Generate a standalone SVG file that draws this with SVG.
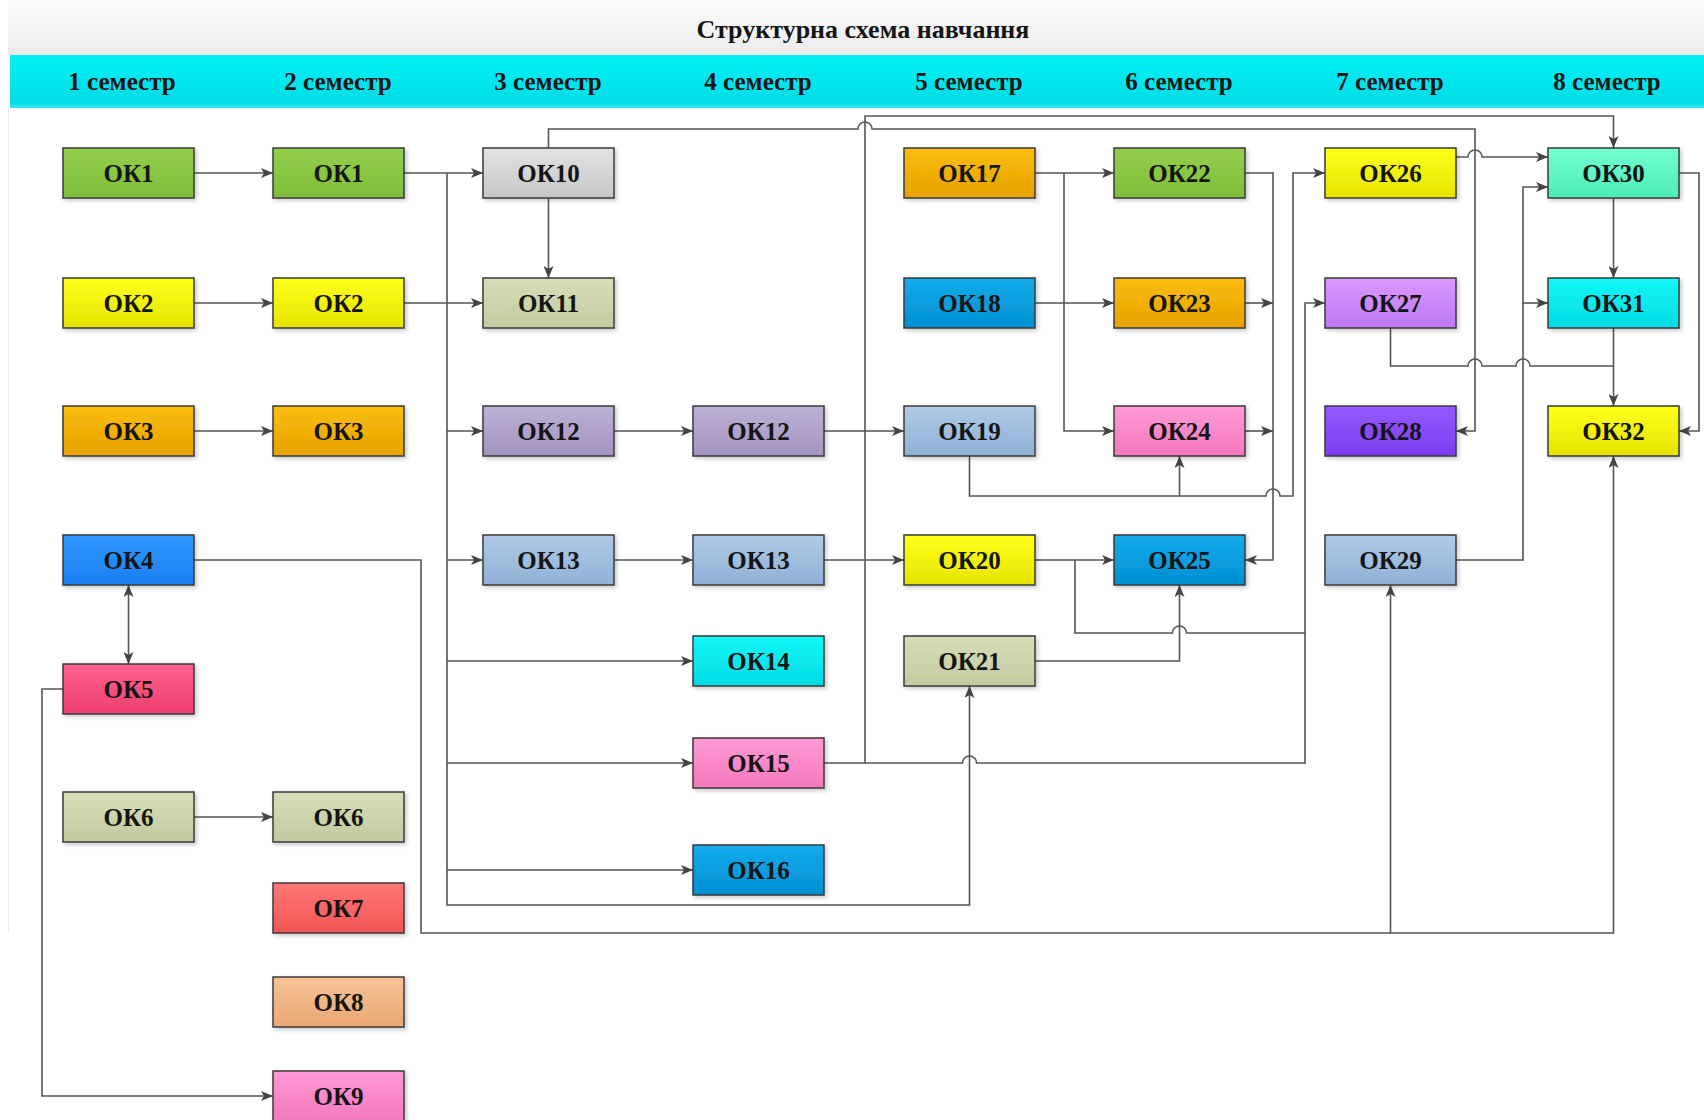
<svg xmlns="http://www.w3.org/2000/svg" width="1704" height="1120" viewBox="0 0 1704 1120">
<style>
.n rect{stroke:#3a3a3a;stroke-width:1.5;filter:url(#sh)}
.n text{font-family:"Liberation Serif","Times New Roman",serif;font-weight:bold;font-size:25px;fill:#151515;text-anchor:middle}
.hd{font-family:"Liberation Serif","Times New Roman",serif;font-weight:bold;fill:#151515;text-anchor:middle}
#connectors path{fill:none;stroke:#555;stroke-width:1.6}
.e{marker-end:url(#ar)}
</style>
<defs>
<marker id="ar" markerWidth="12" markerHeight="10" refX="12" refY="5" orient="auto-start-reverse" markerUnits="userSpaceOnUse"><path d="M0,0 L12,5 L0,10 L3,5 z" fill="#444"/></marker>
<filter id="sh" x="-10%" y="-20%" width="125%" height="150%"><feDropShadow dx="2" dy="2" stdDeviation="2" flood-color="#000" flood-opacity="0.22"/></filter>
<linearGradient id="gTitle" x1="0" y1="0" x2="0" y2="1"><stop offset="0" stop-color="#fcfcfc"/><stop offset="1" stop-color="#ebebeb"/></linearGradient>
<linearGradient id="gBand" x1="0" y1="0" x2="0" y2="1"><stop offset="0" stop-color="#00f2f5"/><stop offset="0.9" stop-color="#00dde6"/><stop offset="1" stop-color="#40e8ee"/></linearGradient>
<linearGradient id="gGreen" x1="0" y1="0" x2="0" y2="1"><stop offset="0" stop-color="#93cf4b"/><stop offset="1" stop-color="#7fbd3a"/></linearGradient>
<linearGradient id="gYellow" x1="0" y1="0" x2="0" y2="1"><stop offset="0" stop-color="#ffff1a"/><stop offset="1" stop-color="#e6e400"/></linearGradient>
<linearGradient id="gOrange" x1="0" y1="0" x2="0" y2="1"><stop offset="0" stop-color="#fbbd0c"/><stop offset="1" stop-color="#e6a200"/></linearGradient>
<linearGradient id="gBlue" x1="0" y1="0" x2="0" y2="1"><stop offset="0" stop-color="#2e98ff"/><stop offset="1" stop-color="#1a7ff0"/></linearGradient>
<linearGradient id="gRed" x1="0" y1="0" x2="0" y2="1"><stop offset="0" stop-color="#ff628f"/><stop offset="1" stop-color="#ee3f6f"/></linearGradient>
<linearGradient id="gKhaki" x1="0" y1="0" x2="0" y2="1"><stop offset="0" stop-color="#d7ddb8"/><stop offset="1" stop-color="#c3ca9f"/></linearGradient>
<linearGradient id="gSalmon" x1="0" y1="0" x2="0" y2="1"><stop offset="0" stop-color="#ff7676"/><stop offset="1" stop-color="#f25656"/></linearGradient>
<linearGradient id="gPeach" x1="0" y1="0" x2="0" y2="1"><stop offset="0" stop-color="#f6c396"/><stop offset="1" stop-color="#e9a873"/></linearGradient>
<linearGradient id="gPink" x1="0" y1="0" x2="0" y2="1"><stop offset="0" stop-color="#ff9ad4"/><stop offset="1" stop-color="#f478bd"/></linearGradient>
<linearGradient id="gGray" x1="0" y1="0" x2="0" y2="1"><stop offset="0" stop-color="#e2e2e2"/><stop offset="1" stop-color="#c6c6c6"/></linearGradient>
<linearGradient id="gLav" x1="0" y1="0" x2="0" y2="1"><stop offset="0" stop-color="#bdb0d5"/><stop offset="1" stop-color="#a394c0"/></linearGradient>
<linearGradient id="gSteel" x1="0" y1="0" x2="0" y2="1"><stop offset="0" stop-color="#b0cae7"/><stop offset="1" stop-color="#8fb0d6"/></linearGradient>
<linearGradient id="gCyan" x1="0" y1="0" x2="0" y2="1"><stop offset="0" stop-color="#14f8f8"/><stop offset="1" stop-color="#00dbe3"/></linearGradient>
<linearGradient id="gSky" x1="0" y1="0" x2="0" y2="1"><stop offset="0" stop-color="#14abeb"/><stop offset="1" stop-color="#0090d0"/></linearGradient>
<linearGradient id="gViolet" x1="0" y1="0" x2="0" y2="1"><stop offset="0" stop-color="#da98ff"/><stop offset="1" stop-color="#bd78f2"/></linearGradient>
<linearGradient id="gPurple" x1="0" y1="0" x2="0" y2="1"><stop offset="0" stop-color="#9659ff"/><stop offset="1" stop-color="#7b3ef0"/></linearGradient>
<linearGradient id="gAqua" x1="0" y1="0" x2="0" y2="1"><stop offset="0" stop-color="#72ffd2"/><stop offset="1" stop-color="#4cecb6"/></linearGradient>
</defs>
<rect x="0" y="0" width="1704" height="1120" fill="#ffffff"/>
<g id="header">
<rect x="8" y="0" width="1696" height="55" fill="url(#gTitle)"/>
<line x1="8.5" y1="108" x2="8.5" y2="932" stroke="#ececec" stroke-width="1"/>
<rect x="10" y="55" width="1694" height="53" fill="url(#gBand)"/>
<text class="hd" x="863" y="38" font-size="26">Структурна схема навчання</text>
<text class="hd" x="122" y="90" font-size="25">1 семестр</text>
<text class="hd" x="338" y="90" font-size="25">2 семестр</text>
<text class="hd" x="548" y="90" font-size="25">3 семестр</text>
<text class="hd" x="758" y="90" font-size="25">4 семестр</text>
<text class="hd" x="969" y="90" font-size="25">5 семестр</text>
<text class="hd" x="1179" y="90" font-size="25">6 семестр</text>
<text class="hd" x="1390" y="90" font-size="25">7 семестр</text>
<text class="hd" x="1607" y="90" font-size="25">8 семестр</text>
</g>
<g id="connectors">
<path class="e" d="M194,173 H273"/>
<path class="e" d="M194,303 H273"/>
<path class="e" d="M194,431 H273"/>
<path class="e" d="M194,817 H273"/>
<path d="M128.5,585 V664" marker-start="url(#ar)" marker-end="url(#ar)"/>
<path class="e" d="M63,689 H42 V1096 H273"/>
<path class="e" d="M404,173 H483"/>
<path class="e" d="M404,303 H483"/>
<path class="e" d="M447,173 V905 H969.5 V686"/>
<path class="e" d="M447,431 H483"/>
<path class="e" d="M447,560 H483"/>
<path class="e" d="M447,661 H693"/>
<path class="e" d="M447,763 H693"/>
<path class="e" d="M447,870 H693"/>
<path class="e" d="M548.5,198 V278"/>
<path class="e" d="M548.5,148 V129 H858 A7,7 0 0 1 872,129 H1475 V431 H1456"/>
<path class="e" d="M824,763 H865 V116 H1613.5 V148"/>
<path class="e" d="M865,763 H962.5 A7,7 0 0 1 976.5,763 H1305 V303 H1325"/>
<path class="e" d="M614,431 H693"/>
<path class="e" d="M824,431 H904"/>
<path class="e" d="M614,560 H693"/>
<path class="e" d="M824,560 H904"/>
<path class="e" d="M1035,173 H1114"/>
<path class="e" d="M1064,173 V431 H1114"/>
<path class="e" d="M1035,303 H1114"/>
<path class="e" d="M969.5,456 V496 H1266 A7,7 0 0 1 1280,496 H1293 V173 H1325"/>
<path class="e" d="M1179.5,496 V456"/>
<path class="e" d="M1245,173 H1273 V560 H1245"/>
<path class="e" d="M1245,303 H1273"/>
<path class="e" d="M1245,431 H1273"/>
<path class="e" d="M1035,560 H1114"/>
<path d="M1075,560 V633 H1172.5 A7,7 0 0 1 1186.5,633 H1305"/>
<path class="e" d="M1035,661 H1179.5 V585"/>
<path class="e" d="M1456,157 H1468 A7,7 0 0 1 1482,157 H1548"/>
<path d="M1390.5,328 V366 H1468 A7,7 0 0 1 1482,366 H1516 A7,7 0 0 1 1530,366 H1613.5"/>
<path class="e" d="M1613.5,328 V406"/>
<path class="e" d="M1456,560 H1523 V187 H1548"/>
<path class="e" d="M1523,303 H1548"/>
<path class="e" d="M1613.5,198 V278"/>
<path class="e" d="M1679,173 H1699 V431 H1679"/>
<path class="e" d="M194,560 H421 V933 H1613.5 V456"/>
<path class="e" d="M1390.5,933 V585"/>
</g>
<g id="ok1-s1" class="n"><rect x="63" y="148" width="131" height="50" fill="url(#gGreen)"/><text x="128.5" y="182">ОК1</text></g>
<g id="ok2-s1" class="n"><rect x="63" y="278" width="131" height="50" fill="url(#gYellow)"/><text x="128.5" y="312">ОК2</text></g>
<g id="ok3-s1" class="n"><rect x="63" y="406" width="131" height="50" fill="url(#gOrange)"/><text x="128.5" y="440">ОК3</text></g>
<g id="ok4" class="n"><rect x="63" y="535" width="131" height="50" fill="url(#gBlue)"/><text x="128.5" y="569">ОК4</text></g>
<g id="ok5" class="n"><rect x="63" y="664" width="131" height="50" fill="url(#gRed)"/><text x="128.5" y="698">ОК5</text></g>
<g id="ok6-s1" class="n"><rect x="63" y="792" width="131" height="50" fill="url(#gKhaki)"/><text x="128.5" y="826">ОК6</text></g>
<g id="ok1-s2" class="n"><rect x="273" y="148" width="131" height="50" fill="url(#gGreen)"/><text x="338.5" y="182">ОК1</text></g>
<g id="ok2-s2" class="n"><rect x="273" y="278" width="131" height="50" fill="url(#gYellow)"/><text x="338.5" y="312">ОК2</text></g>
<g id="ok3-s2" class="n"><rect x="273" y="406" width="131" height="50" fill="url(#gOrange)"/><text x="338.5" y="440">ОК3</text></g>
<g id="ok6-s2" class="n"><rect x="273" y="792" width="131" height="50" fill="url(#gKhaki)"/><text x="338.5" y="826">ОК6</text></g>
<g id="ok7" class="n"><rect x="273" y="883" width="131" height="50" fill="url(#gSalmon)"/><text x="338.5" y="917">ОК7</text></g>
<g id="ok8" class="n"><rect x="273" y="977" width="131" height="50" fill="url(#gPeach)"/><text x="338.5" y="1011">ОК8</text></g>
<g id="ok9" class="n"><rect x="273" y="1071" width="131" height="50" fill="url(#gPink)"/><text x="338.5" y="1105">ОК9</text></g>
<g id="ok10" class="n"><rect x="483" y="148" width="131" height="50" fill="url(#gGray)"/><text x="548.5" y="182">ОК10</text></g>
<g id="ok11" class="n"><rect x="483" y="278" width="131" height="50" fill="url(#gKhaki)"/><text x="548.5" y="312">ОК11</text></g>
<g id="ok12-s3" class="n"><rect x="483" y="406" width="131" height="50" fill="url(#gLav)"/><text x="548.5" y="440">ОК12</text></g>
<g id="ok13-s3" class="n"><rect x="483" y="535" width="131" height="50" fill="url(#gSteel)"/><text x="548.5" y="569">ОК13</text></g>
<g id="ok12-s4" class="n"><rect x="693" y="406" width="131" height="50" fill="url(#gLav)"/><text x="758.5" y="440">ОК12</text></g>
<g id="ok13-s4" class="n"><rect x="693" y="535" width="131" height="50" fill="url(#gSteel)"/><text x="758.5" y="569">ОК13</text></g>
<g id="ok14" class="n"><rect x="693" y="636" width="131" height="50" fill="url(#gCyan)"/><text x="758.5" y="670">ОК14</text></g>
<g id="ok15" class="n"><rect x="693" y="738" width="131" height="50" fill="url(#gPink)"/><text x="758.5" y="772">ОК15</text></g>
<g id="ok16" class="n"><rect x="693" y="845" width="131" height="50" fill="url(#gSky)"/><text x="758.5" y="879">ОК16</text></g>
<g id="ok17" class="n"><rect x="904" y="148" width="131" height="50" fill="url(#gOrange)"/><text x="969.5" y="182">ОК17</text></g>
<g id="ok18" class="n"><rect x="904" y="278" width="131" height="50" fill="url(#gSky)"/><text x="969.5" y="312">ОК18</text></g>
<g id="ok19" class="n"><rect x="904" y="406" width="131" height="50" fill="url(#gSteel)"/><text x="969.5" y="440">ОК19</text></g>
<g id="ok20" class="n"><rect x="904" y="535" width="131" height="50" fill="url(#gYellow)"/><text x="969.5" y="569">ОК20</text></g>
<g id="ok21" class="n"><rect x="904" y="636" width="131" height="50" fill="url(#gKhaki)"/><text x="969.5" y="670">ОК21</text></g>
<g id="ok22" class="n"><rect x="1114" y="148" width="131" height="50" fill="url(#gGreen)"/><text x="1179.5" y="182">ОК22</text></g>
<g id="ok23" class="n"><rect x="1114" y="278" width="131" height="50" fill="url(#gOrange)"/><text x="1179.5" y="312">ОК23</text></g>
<g id="ok24" class="n"><rect x="1114" y="406" width="131" height="50" fill="url(#gPink)"/><text x="1179.5" y="440">ОК24</text></g>
<g id="ok25" class="n"><rect x="1114" y="535" width="131" height="50" fill="url(#gSky)"/><text x="1179.5" y="569">ОК25</text></g>
<g id="ok26" class="n"><rect x="1325" y="148" width="131" height="50" fill="url(#gYellow)"/><text x="1390.5" y="182">ОК26</text></g>
<g id="ok27" class="n"><rect x="1325" y="278" width="131" height="50" fill="url(#gViolet)"/><text x="1390.5" y="312">ОК27</text></g>
<g id="ok28" class="n"><rect x="1325" y="406" width="131" height="50" fill="url(#gPurple)"/><text x="1390.5" y="440">ОК28</text></g>
<g id="ok29" class="n"><rect x="1325" y="535" width="131" height="50" fill="url(#gSteel)"/><text x="1390.5" y="569">ОК29</text></g>
<g id="ok30" class="n"><rect x="1548" y="148" width="131" height="50" fill="url(#gAqua)"/><text x="1613.5" y="182">ОК30</text></g>
<g id="ok31" class="n"><rect x="1548" y="278" width="131" height="50" fill="url(#gCyan)"/><text x="1613.5" y="312">ОК31</text></g>
<g id="ok32" class="n"><rect x="1548" y="406" width="131" height="50" fill="url(#gYellow)"/><text x="1613.5" y="440">ОК32</text></g>
</svg>
